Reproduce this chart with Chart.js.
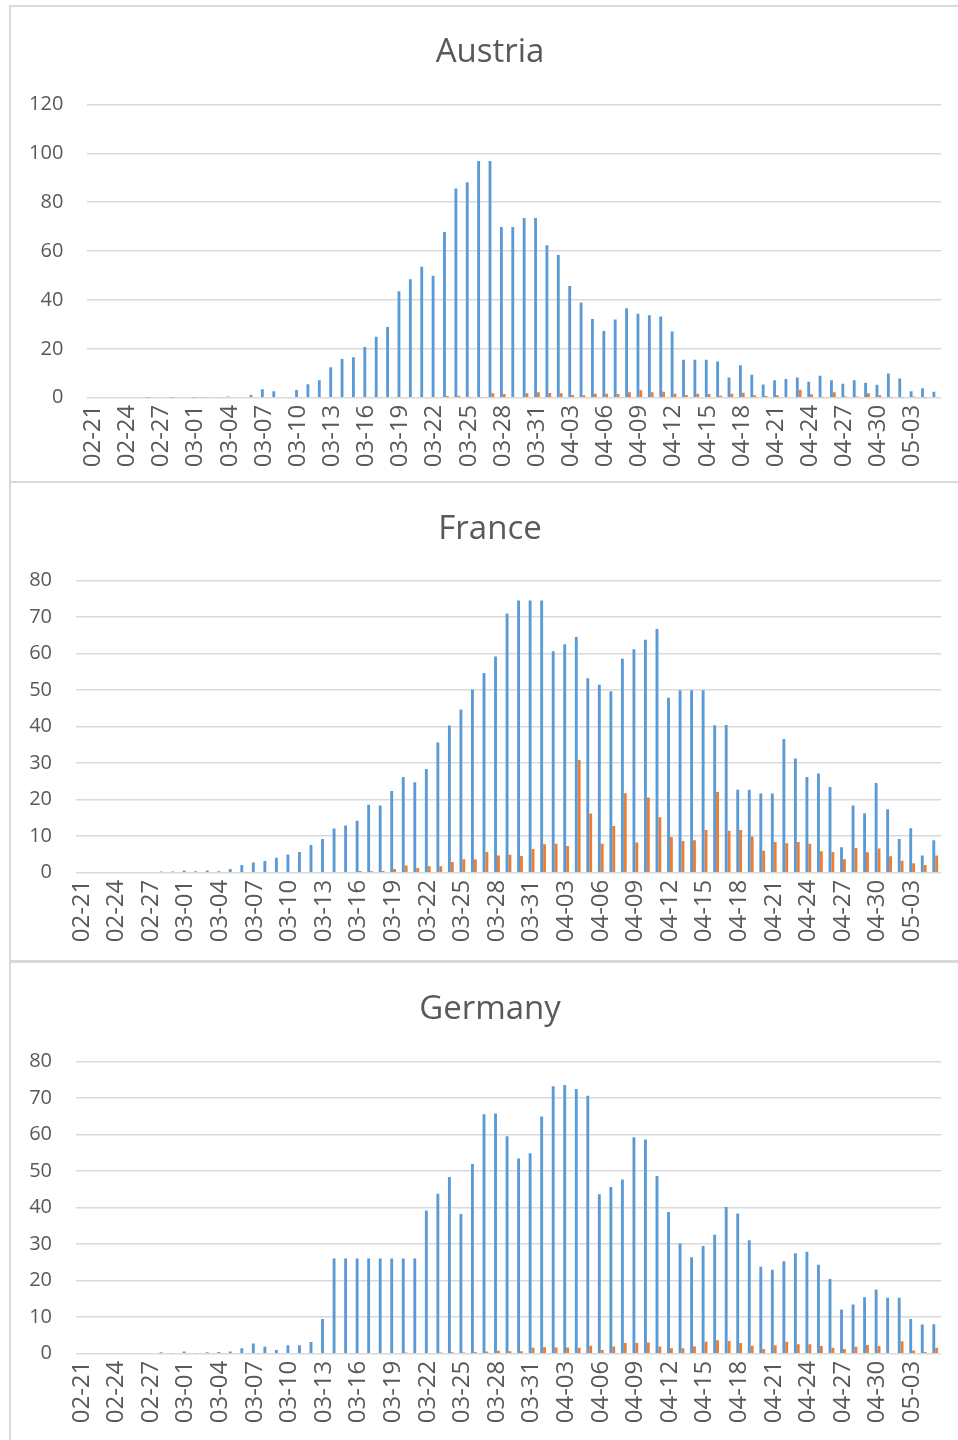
<!DOCTYPE html>
<html>
<head>
<meta charset="utf-8">
<script src="https://cdn.jsdelivr.net/npm/chart.js@4.4.0/dist/chart.umd.min.js"></script>
<style>
html,body{margin:0;padding:0;background:#fff;width:958px;height:1440px;overflow:hidden;position:relative;}
.panel{position:absolute;left:9px;width:960px;border:2px solid #d9d9d9;box-sizing:border-box;background:#fff;}
canvas{position:absolute;left:0px;}
</style>
</head>
<body>
<div class="panel" style="top:5px;height:478px"></div>
<div class="panel" style="top:481px;height:481px"></div>
<div class="panel" style="top:961px;height:490px"></div>
<canvas id="cAustria" width="958" height="475" style="top:6px"></canvas>
<canvas id="cFrance" width="958" height="479" style="top:482px"></canvas>
<canvas id="cGermany" width="958" height="478" style="top:962px"></canvas>
<script>
// Categories: 02-21 .. 05-05
const dates = [
 "02-21","02-22","02-23","02-24","02-25","02-26","02-27","02-28","02-29",
 "03-01","03-02","03-03","03-04","03-05","03-06","03-07","03-08","03-09","03-10",
 "03-11","03-12","03-13","03-14","03-15","03-16","03-17","03-18","03-19","03-20",
 "03-21","03-22","03-23","03-24","03-25","03-26","03-27","03-28","03-29","03-30","03-31",
 "04-01","04-02","04-03","04-04","04-05","04-06","04-07","04-08","04-09","04-10",
 "04-11","04-12","04-13","04-14","04-15","04-16","04-17","04-18","04-19","04-20",
 "04-21","04-22","04-23","04-24","04-25","04-26","04-27","04-28","04-29","04-30",
 "05-01","05-02","05-03","05-04","05-05"
];

// Austria
const austriaBlue = [
 0,0,0,0,0,0.1,0,0.1,0,0.1,0.2,0.2,0.5,0.3,1.1,3.5,2.6,0.3,3.1,5.5,
 7.1,12.5,15.8,16.6,20.7,24.9,28.9,43.6,48.5,53.6,49.9,67.8,85.6,88.1,96.8,96.8,69.8,69.8,73.5,73.5,
 62.4,58.4,45.7,39.0,32.2,27.3,32.0,36.6,34.3,33.7,33.2,27.1,15.5,15.5,15.5,14.8,8.3,13.3,9.4,5.4,
 7.1,7.6,8.3,6.5,9.0,7.1,5.7,7.1,6.1,5.3,9.9,7.9,2.6,3.9,2.4
];
const austriaOrange = [
 0,0,0,0,0,0,0,0,0,0,0,0,0,0,0,0,0,0,0,0,
 0,0,0,0,0,0,0,0,0,0,0,0.7,0.8,0.2,0.2,1.8,1.5,0,1.8,2.2,
 1.9,1.8,1.1,1.0,1.6,1.6,1.5,2.2,3.0,2.2,2.4,1.6,1.1,1.6,1.5,0.8,1.6,2.0,1.0,0.7,
 1.0,0,3.3,1.4,0.1,2.2,0.5,0.5,1.8,1.0,0.1,0.1,0.5,0.1,0
];

// France
const franceBlue = [
 0,0,0,0,0,0,0,0.3,0.3,0.6,0.4,0.6,0.4,1.0,2.1,2.8,3.2,4.1,5.0,5.7,
 7.6,9.2,12.1,12.9,14.2,18.6,18.4,22.4,26.2,24.8,28.4,35.7,40.3,44.7,50.1,54.7,59.2,71.0,74.6,74.6,
 74.6,60.7,62.6,64.6,53.3,51.5,49.7,58.6,61.2,63.8,66.8,47.9,50.0,50.0,50.0,40.4,40.5,22.7,22.7,21.7,
 21.7,36.6,31.3,26.2,27.2,23.5,7.0,18.4,16.3,24.6,17.4,9.2,12.2,4.7,8.9
];
const franceOrange = [
 0,0,0,0,0,0,0,0,0,0,0,0,0,0,0,0,0,0,0,0,
 0,0,0,0,0.5,0.4,0.5,1.0,2.0,1.3,1.8,1.8,2.9,3.7,3.6,5.7,4.7,4.9,4.6,6.5,
 7.8,7.9,7.3,30.9,16.2,7.9,12.8,21.8,8.3,20.6,15.2,9.8,8.7,8.9,11.7,22.1,11.5,11.7,9.9,6.0,
 8.4,8.1,8.4,7.9,5.9,5.7,3.7,6.8,5.6,6.6,4.5,3.3,2.6,2.1,4.7
];

// Germany
const germanyBlue = [
 0,0,0,0,0,0,0,0.4,0.1,0.6,0.1,0.4,0.5,0.6,1.5,2.8,1.9,1.0,2.3,2.3,
 3.2,9.5,26.1,26.1,26.1,26.1,26.1,26.1,26.1,26.1,39.2,43.8,48.4,38.3,52.0,65.6,65.8,59.6,53.5,54.9,
 65.0,73.3,73.6,72.5,70.7,43.7,45.7,47.7,59.3,58.7,48.7,38.8,30.2,26.4,29.5,32.6,40.2,38.4,31.1,23.8,
 23.0,25.3,27.5,27.9,24.4,20.5,12.1,13.5,15.5,17.6,15.3,15.3,9.5,8.0,8.1
];
const germanyOrange = [
 0,0,0,0,0,0,0,0,0,0,0,0,0,0,0,0,0,0,0,0,
 0,0,0,0,0,0,0,0,0.3,0,0.2,0.3,0.4,0.3,0.5,0.6,0.8,0.7,0.7,1.6,
 1.8,1.7,1.7,1.6,2.2,1.0,2.0,2.9,2.9,3.1,2.0,1.5,1.5,2.0,3.3,3.7,3.5,2.9,2.2,1.3,
 2.3,3.3,2.6,2.6,2.1,1.6,1.3,1.9,2.4,2.1,0,3.4,0.9,0.5,1.6
];

const BLUE = '#5b9bd5', ORANGE = '#ed7d31', TXT = '#595959', GRID = '#d9d9d9';
const FONT = "'Open Sans', 'Noto Sans', sans-serif";

// widen the y-axis label clip box to the canvas edge so labels left of the padded box stay visible
const widenYLabels = {
  id: 'widenYLabels',
  afterLayout(chart) { const y = chart.scales.y; if (y) { y.left = 0; } }
};

function makeChart(id, title, blue, orange, yMax, yStep, yWidth, xHeight, tTop, tBottom) {
  new Chart(document.getElementById(id), {
    type: 'bar',
    data: {
      labels: dates,
      datasets: [
        {data: blue, backgroundColor: BLUE, borderWidth: 0, barPercentage: 1.0, categoryPercentage: 0.5},
        {data: orange, backgroundColor: ORANGE, borderWidth: 0, barPercentage: 1.0, categoryPercentage: 0.5}
      ]
    },
    plugins: [widenYLabels],
    options: {
      responsive: false,
      animation: false,
      events: [],
      layout: {padding: {left: 39, right: 17, top: 0, bottom: 0}},
      plugins: {
        legend: {display: false},
        tooltip: {enabled: false},
        title: {
          display: true, text: title, color: TXT,
          font: {family: FONT, size: 33, weight: 'normal', lineHeight: 1.2},
          padding: {top: tTop, bottom: tBottom}
        }
      },
      scales: {
        x: {
          grid: {display: false, drawTicks: false},
          border: {display: false},
          ticks: {
            autoSkip: false, minRotation: 90, maxRotation: 90, padding: 7,
            color: TXT, font: {family: FONT, size: 24},
            callback: (v, i) => (i % 3 === 0 ? dates[i] : '')
          },
          afterFit: s => { s.height = xHeight; s.paddingLeft = 0; s.paddingRight = 0; }
        },
        y: {
          min: 0, max: yMax,
          grid: {color: GRID, lineWidth: 1.5, drawTicks: false},
          border: {display: false},
          ticks: {stepSize: yStep, padding: 24, color: TXT, font: {family: FONT, size: 20}},
          afterFit: s => { s.width = yWidth; }
        }
      }
    }
  });
}

makeChart('cAustria', 'Austria', austriaBlue, austriaOrange, 120, 20, 48.4, 83.3, 26.4, 32.4);
makeChart('cFrance', 'France', franceBlue, franceOrange, 80, 10, 37, 88.3, 27.4, 31.7);
makeChart('cGermany', 'Germany', germanyBlue, germanyOrange, 80, 10, 37, 86.3, 27.4, 32.7);
</script>
</body>
</html>
